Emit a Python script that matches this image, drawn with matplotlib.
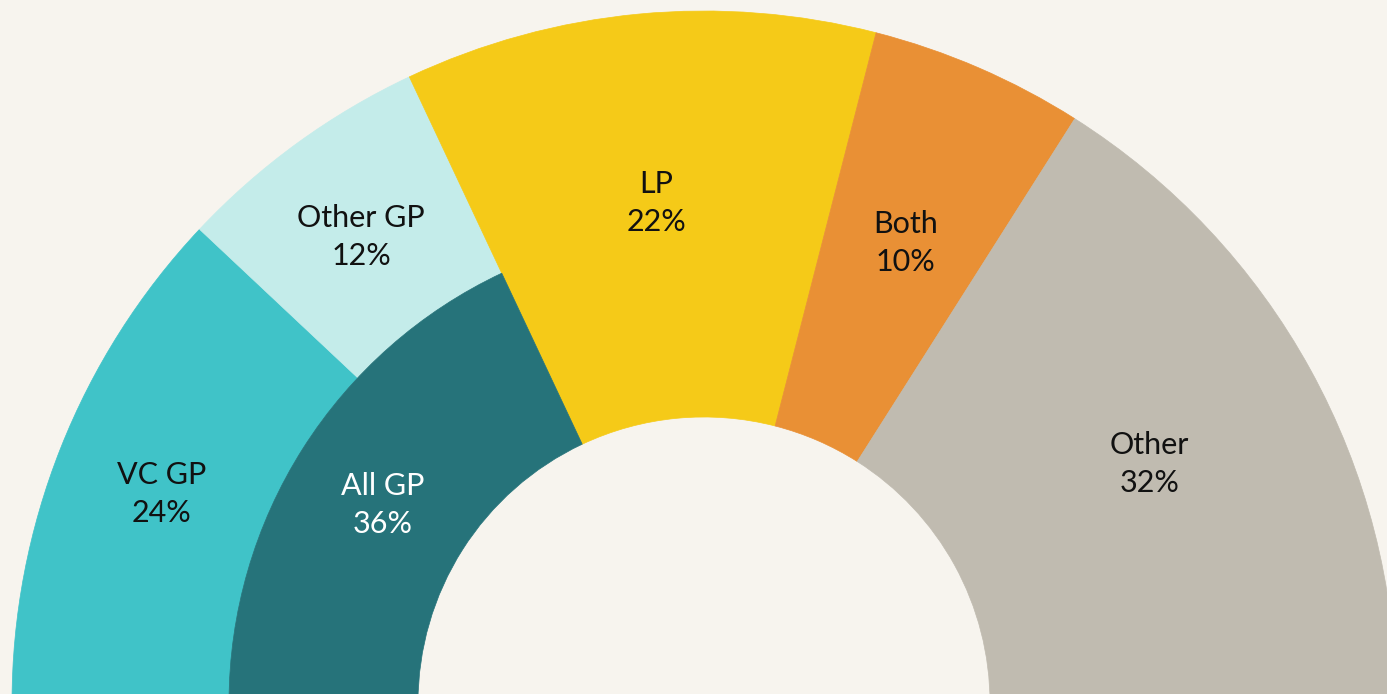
import numpy as np
import matplotlib.pyplot as plt
from matplotlib.patches import Wedge

# 반원 도넛 차트 데이터 (단위: %)
outer_labels = ["VC GP", "Other GP", "LP", "Both", "Other"]
outer_values = [24, 12, 22, 10, 32]
outer_colors = ["#40C3C8", "#C4ECEA", "#F5CA18", "#E99035", "#C0BBB0"]
inner_labels = ["All GP"]
inner_values = [36]
inner_colors = ["#26737A"]

bg = "#F7F4EE"
fig = plt.figure(figsize=(13.87, 6.94), dpi=100, facecolor=bg)
ax = fig.add_axes([0, 0, 1, 1])
ax.set_facecolor(bg)
ax.set_xlim(0, 1387)
ax.set_ylim(0, 694)
ax.axis("off")

cx, cy = 704, -9
r_out, r_mid, r_in = 692, 475, 286
font = ["Lato", "DejaVu Sans"]

def ang(p):
    # 퍼센트 -> 각도 (왼쪽 180도에서 시계방향)
    return 180 - p * 1.8

def label(x, y, s, col):
    ax.text(x, y - 6, s, ha="center", va="center", fontsize=22, family=font,
            color=col, linespacing=1.45)

# 바깥 링 (GP 구간은 r_mid 바깥, 나머지는 전체 두께)
start = 0
for lab, v, c in zip(outer_labels, outer_values, outer_colors):
    gp = lab.endswith("GP")
    r0 = r_mid if gp else r_in
    ax.add_patch(Wedge((cx, cy), r_out, ang(start + v), ang(start), width=r_out - r0,
                       facecolor=c, edgecolor=c, linewidth=0.5))
    mid = np.radians(ang(start + v / 2))
    rr = (r_out + r0) / 2 if gp else 508
    label(cx + rr * np.cos(mid), cy + rr * np.sin(mid), f"{lab}\n{v}%", "#111111")
    start += v

# 안쪽 링
start = 0
for lab, v, c in zip(inner_labels, inner_values, inner_colors):
    ax.add_patch(Wedge((cx, cy), r_mid, ang(start + v), ang(start), width=r_mid - r_in,
                       facecolor=c, edgecolor=c, linewidth=0.5))
    mid = np.radians(ang(start + v / 2))
    rr = (r_mid + r_in) / 2
    label(cx + rr * np.cos(mid), cy + rr * np.sin(mid), f"{lab}\n{v}%", "white")
    start += v

fig.savefig("out.png", dpi=100, facecolor=bg)
